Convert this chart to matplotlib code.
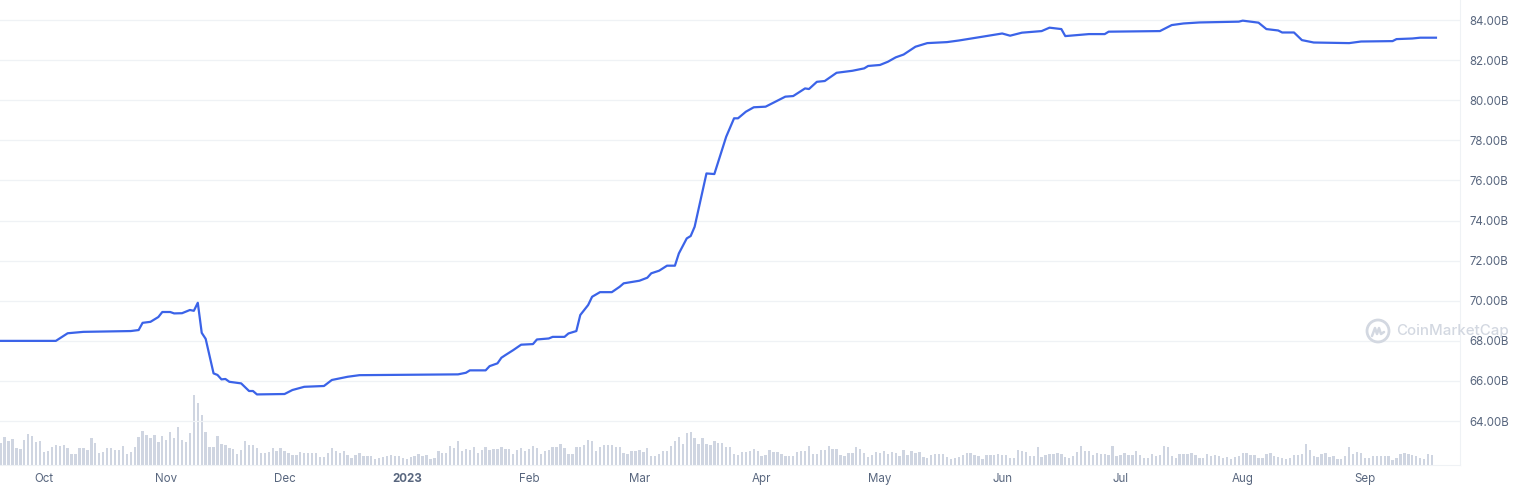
import matplotlib
matplotlib.use("Agg")
import matplotlib.pyplot as plt
import matplotlib.dates as mdates
from matplotlib.patches import Ellipse
from matplotlib.lines import Line2D
import pandas as pd
import numpy as np

# ---------------- data ----------------
price_dates = ["2022-09-20","2022-10-04","2022-10-07","2022-10-11","2022-10-23","2022-10-25","2022-10-26","2022-10-28","2022-10-30","2022-10-31",
               "2022-11-02","2022-11-03","2022-11-05","2022-11-07","2022-11-08","2022-11-09","2022-11-10","2022-11-11","2022-11-13","2022-11-14",
               "2022-11-15","2022-11-16","2022-11-17","2022-11-20","2022-11-22","2022-11-23","2022-11-24","2022-12-01","2022-12-03","2022-12-06",
               "2022-12-11","2022-12-13","2022-12-17","2022-12-20","2023-01-14","2023-01-16","2023-01-17","2023-01-21","2023-01-22","2023-01-24",
               "2023-01-25","2023-01-26","2023-01-28","2023-01-30","2023-02-02","2023-02-03","2023-02-06","2023-02-07","2023-02-10","2023-02-11",
               "2023-02-13","2023-02-14","2023-02-16","2023-02-17","2023-02-19","2023-02-22","2023-02-24","2023-02-25","2023-03-01","2023-03-03",
               "2023-03-04","2023-03-06","2023-03-08","2023-03-10","2023-03-11","2023-03-13","2023-03-14","2023-03-15","2023-03-18","2023-03-20",
               "2023-03-23","2023-03-25","2023-03-26","2023-03-28","2023-03-30","2023-04-02","2023-04-04","2023-04-07","2023-04-09","2023-04-12",
               "2023-04-13","2023-04-15","2023-04-17","2023-04-20","2023-04-24","2023-04-27","2023-04-28","2023-05-01","2023-05-03","2023-05-05",
               "2023-05-07","2023-05-10","2023-05-13","2023-05-18","2023-05-21","2023-05-27","2023-06-01","2023-06-03","2023-06-06","2023-06-11",
               "2023-06-13","2023-06-16","2023-06-17","2023-06-23","2023-06-27","2023-06-28","2023-07-11","2023-07-14","2023-07-17","2023-07-21",
               "2023-07-31","2023-08-01","2023-08-05","2023-08-07","2023-08-10","2023-08-11","2023-08-14","2023-08-16","2023-08-19","2023-08-28",
               "2023-08-31","2023-09-08","2023-09-09","2023-09-13","2023-09-15","2023-09-19"]
market_cap_b = [68.0, 68.0, 68.38, 68.45, 68.49, 68.54, 68.9, 68.95, 69.19, 69.44,
                69.44, 69.37, 69.38, 69.54, 69.5, 69.9, 68.4, 68.1, 66.38, 66.3,
                66.08, 66.1, 65.96, 65.88, 65.5, 65.5, 65.33, 65.35, 65.55, 65.71,
                65.75, 66.05, 66.21, 66.29, 66.33, 66.41, 66.53, 66.53, 66.74, 66.88,
                67.16, 67.29, 67.54, 67.81, 67.84, 68.07, 68.12, 68.2, 68.2, 68.37,
                68.49, 69.29, 69.79, 70.2, 70.43, 70.43, 70.7, 70.87, 71.0, 71.15,
                71.37, 71.5, 71.75, 71.75, 72.36, 73.11, 73.23, 73.69, 76.35, 76.32,
                78.18, 79.1, 79.1, 79.43, 79.65, 79.68, 79.88, 80.18, 80.21, 80.59,
                80.56, 80.92, 80.96, 81.37, 81.47, 81.59, 81.71, 81.76, 81.92, 82.14,
                82.28, 82.67, 82.85, 82.9, 82.98, 83.17, 83.33, 83.22, 83.37, 83.45,
                83.62, 83.55, 83.2, 83.3, 83.3, 83.42, 83.45, 83.75, 83.83, 83.88,
                83.92, 83.97, 83.87, 83.55, 83.48, 83.38, 83.38, 83.0, 82.88, 82.85,
                82.93, 82.95, 83.05, 83.08, 83.12, 83.12]

volume_start = "2022-09-20"
volume_rel = [65,83,73,78,52,47,75,93,87,70, 72,40,42,53,60,58,60,50,33,33,
              50,50,45,80,67,37,40,50,50,45, 45,57,33,40,53,83,102,90,80,90,
              68,87,75,98,80,113,75,68,95,210, 185,150,98,53,53,87,62,60,50,47,
              33,45,72,60,60,50,37,37,40,50, 42,50,42,35,30,30,38,37,37,37,
              37,23,23,37,50,42,37,42,30,20, 30,37,27,27,27,18,20,23,27,30,
              27,27,20,18,23,27,33,27,30,18, 22,42,35,37,57,50,72,42,48,45,
              55,37,45,53,
              45,47,47,53,47,47,33,45,50,42, 47,57,50,33,42,45,53,53,63,50,
              33,33,53,53,60,75,72,42,53,60, 60,60,53,53,35,33,42,42,45,39,
              50,27,27,33,42,42,57,72,83,63, 95,98,80,63,80,63,60,72,65,65,
              53,53,33,30,38,38,43,47,42,27, 30,45,38,38,32,27,27,27,38,42,
              42,57,33,33,45,45,57,47,47,30, 27,37,37,55,47,35,23,30,38,35,
              42,33,38,35,27,45,30,42,35,38, 23,20,30,32,33,33,23,17,20,23,
              30,37,
              35,30,27,18,30,30,30,33,30,30, 22,22,45,42,38,27,27,53,25,30,
              33,33,35,33,23,22,27,38,57,42, 42,30,35,33,33,30,57,27,30,35,
              30,30,42,30,20,20,33,27,30,57, 55,27,20,32,32,32,35,30,20,22,
              32,27,30,27,22,23,18,25,27,35, 35,30,30,20,20,33,35,27,25,20,
              17,22,30,30,32,63,45,27,25,32, 35,25,27,18,18,27,53,33,38,35,
              22,20,27,27,27,27,27,15,20,32, 35,32,30,27,20,18,32,30]

y_ticks = [64, 66, 68, 70, 72, 74, 76, 78, 80, 82, 84]
month_ticks = ["2022-10-01","2022-11-01","2022-12-01","2023-01-01","2023-02-01","2023-03-01",
               "2023-04-01","2023-05-01","2023-06-01","2023-07-01","2023-08-01","2023-09-01"]
month_labels = ["Oct","Nov","Dec","2023","Feb","Mar","Apr","May","Jun","Jul","Aug","Sep"]

# ---------------- styling ----------------
plt.rcParams['font.family'] = ['Inter', 'DejaVu Sans']
LINE = '#3b63e8'
BAR = '#cfd5e1'
GRID = '#eff2f5'
TXT = '#58667e'

W, H = 1516, 491
fig = plt.figure(figsize=(W / 100, H / 100), dpi=100)
fig.patch.set_facecolor('white')

ax_l, ax_b, ax_w, ax_h = 0 / W, 26 / H, 1460 / W, 465 / H
axv = fig.add_axes([ax_l, ax_b, ax_w, ax_h])
ax = fig.add_axes([ax_l, ax_b, ax_w, ax_h], sharex=axv)
ax.patch.set_alpha(0)

# volume bars
vdates = pd.date_range(volume_start, periods=len(volume_rel), freq='D')
axv.bar(vdates, volume_rel, width=0.6, color=BAR, linewidth=0)
axv.set_ylim(0, max(volume_rel) * 465 / 70)
axv.set_yticks([])
for s in axv.spines.values():
    s.set_visible(False)

# market cap line
pdates = pd.to_datetime(price_dates)
ax.plot(pdates, market_cap_b, color=LINE, lw=1.6, solid_joinstyle='round')

ax.set_ylim(61.81, 85.0)
ax.set_yticks(y_ticks)
ax.set_yticklabels([f"{v:.2f}B" for v in y_ticks])
ax.yaxis.tick_right()
ax.tick_params(axis='y', length=0, pad=7, labelsize=8.3, labelcolor=TXT)
ax.grid(axis='y', color=GRID, lw=0.9)
ax.set_axisbelow(True)

oct1 = mdates.date2num(pd.Timestamp("2022-10-01"))
ax.set_xlim(oct1 - 11.16, oct1 + 359.1)
ax.set_xticks(pd.to_datetime(month_ticks))
ax.set_xticklabels(month_labels)
ax.tick_params(axis='x', length=0, pad=6, labelsize=8.3, labelcolor=TXT)
for lab in ax.get_xticklabels():
    if lab.get_text() == "2023":
        lab.set_fontweight('bold')
axv.tick_params(axis='x', length=0, labelbottom=False)

for k in ['top', 'left']:
    ax.spines[k].set_visible(False)
ax.spines['right'].set_color(GRID)
ax.spines['bottom'].set_color(GRID)

# watermark
WM = '#d3d8e1'
cx, cy = 1378, 331
fig.text(1396 / W, 1 - cy / H, "CoinMarketCap", color=WM, fontsize=10.8,
         fontweight='medium', va='center', ha='left', family=['Inter', 'DejaVu Sans'])
fig.add_artist(Ellipse((cx / W, 1 - cy / H), 22 / W, 22 / H, transform=fig.transFigure,
                       fill=False, edgecolor=WM, lw=2.0))
wx = [cx - 6, cx - 3, cx - 1, cx + 1, cx + 3, cx + 6]
wy = [cy + 5, cy - 3, cy + 3, cy - 3, cy + 3, cy + 1]
fig.add_artist(Line2D([x / W for x in wx], [1 - y / H for y in wy], transform=fig.transFigure,
                      color=WM, lw=1.8, solid_joinstyle='round', solid_capstyle='round'))

fig.savefig("out.png", dpi=100)
